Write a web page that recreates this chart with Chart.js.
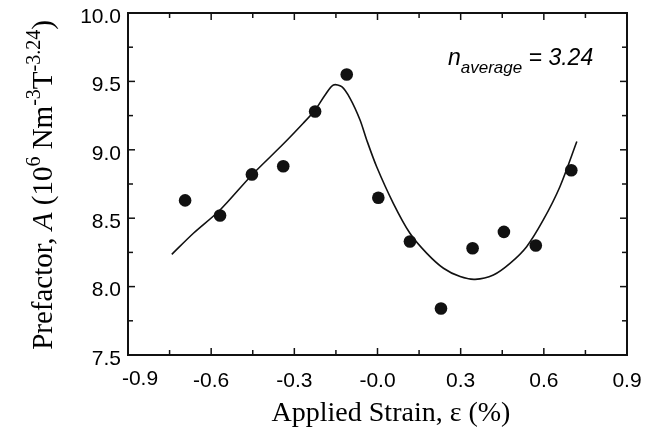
<!DOCTYPE html>
<html>
<head>
<meta charset="utf-8">
<script src="https://cdn.jsdelivr.net/npm/chart.js@4.4.1/dist/chart.umd.min.js"></script>
<style>
  html, body { margin: 0; padding: 0; background: #fff; }
</style>
</head>
<body>
<canvas id="strainChart" width="659" height="446"></canvas>
<script>
// Measured prefactor values
const strainX = [-0.694, -0.568, -0.453, -0.340, -0.225, -0.111, 0.003, 0.117, 0.229, 0.343, 0.456, 0.571, 0.699];
const prefactor = [8.63, 8.52, 8.82, 8.88, 9.28, 9.55, 8.65, 8.33, 7.84, 8.28, 8.40, 8.30, 8.85];

// Fitted curve
const fitX = [-0.742, -0.664, -0.568, -0.453, -0.340, -0.268, -0.225, -0.189, -0.159, -0.129, -0.099, -0.063, -0.039,
              -0.003, 0.057, 0.117, 0.178, 0.238, 0.298, 0.352, 0.418, 0.478, 0.538, 0.598, 0.658, 0.719];
const fitY = [8.236, 8.390, 8.560, 8.816, 9.042, 9.194, 9.291, 9.401, 9.474, 9.461, 9.376, 9.218, 9.072,
              8.876, 8.609, 8.390, 8.243, 8.134, 8.073, 8.053, 8.085, 8.170, 8.292, 8.487, 8.730, 9.060];

// Axis ticks
const xTicks = [-0.9, -0.6, -0.3, 0, 0.3, 0.6, 0.9];
const xTickLabels = ['-0.9', '-0.6', '-0.3', '-0.0', '0.3', '0.6', '0.9'];
const xMinorTicks = [-0.75, -0.45, -0.15, 0.15, 0.45, 0.75];
const yTicks = [7.5, 8.0, 8.5, 9.0, 9.5, 10.0];
const yTickLabels = ['7.5', '8.0', '8.5', '9.0', '9.5', '10.0'];
const yMinorTicks = [7.75, 8.25, 8.75, 9.25, 9.75];

const sans = "'Liberation Sans', Arial, sans-serif";
const serif = "'Liberation Serif', 'Times New Roman', serif";

// Draws a run of text pieces (main text, superscripts, subscripts) one after another
function drawRich(ctx, parts, startX, baseY) {
    let cx = startX;
    parts.forEach(p => {
        ctx.font = p.font;
        ctx.fillText(p.t, cx, baseY + (p.dy || 0));
        cx += ctx.measureText(p.t).width;
    });
}
function richWidth(ctx, parts) {
    let w = 0;
    parts.forEach(p => { ctx.font = p.font; w += ctx.measureText(p.t).width; });
    return w;
}

// Frame, inward ticks, axis titles and the annotation
const framePlugin = {
    id: 'frame',
    afterDraw(chart) {
        const { ctx, chartArea: a, scales: { x, y } } = chart;
        ctx.save();
        ctx.strokeStyle = '#111';
        ctx.fillStyle = '#000';

        ctx.lineWidth = 1.5;
        const line = (x1, y1, x2, y2) => { ctx.beginPath(); ctx.moveTo(x1, y1); ctx.lineTo(x2, y2); ctx.stroke(); };
        const tickX = (v, len) => {
            const px = x.getPixelForValue(v);
            line(px, a.bottom, px, a.bottom - len);
            line(px, a.top, px, a.top + len);
        };
        const tickY = (v, len) => {
            const py = y.getPixelForValue(v);
            line(a.left, py, a.left + len, py);
            line(a.right, py, a.right - len, py);
        };
        xTicks.forEach(v => tickX(v, 7));
        xMinorTicks.forEach(v => tickX(v, 5));
        yTicks.forEach(v => tickY(v, 7));
        yMinorTicks.forEach(v => tickY(v, 5));

        ctx.lineWidth = 2;
        ctx.strokeRect(a.left, a.top, a.right - a.left, a.bottom - a.top);

        // first x label sits a bit to the right of its tick in the original
        ctx.font = '21px ' + sans;
        ctx.textAlign = 'center';
        ctx.textBaseline = 'top';
        ctx.fillText(xTickLabels[0], x.getPixelForValue(xTicks[0]) + 12, a.bottom + 14);

        // x title
        ctx.textAlign = 'left';
        ctx.textBaseline = 'alphabetic';
        const xTitle = [{ t: 'Applied Strain, \u03B5 (%)', font: '28px ' + serif }];
        drawRich(ctx, xTitle, 391 - richWidth(ctx, xTitle) / 2, 421);

        // y title, rotated
        const big = '29px ' + serif;
        const sup = '20px ' + serif;
        const yTitle = [
            { t: 'Prefactor, ', font: big },
            { t: 'A', font: 'italic ' + big },
            { t: ' (10', font: big },
            { t: '6', font: sup, dy: -12 },
            { t: ' Nm', font: big },
            { t: '-3', font: sup, dy: -12 },
            { t: 'T', font: big },
            { t: '-3.24', font: sup, dy: -12 },
            { t: ')', font: big }
        ];
        ctx.save();
        ctx.translate(52, (a.top + a.bottom) / 2 + 1);
        ctx.rotate(-Math.PI / 2);
        drawRich(ctx, yTitle, -richWidth(ctx, yTitle) / 2, 0);
        ctx.restore();

        // annotation
        drawRich(ctx, [
            { t: 'n', font: 'italic 23px ' + sans },
            { t: 'average', font: 'italic 17px ' + sans, dy: 8 },
            { t: ' = 3.24', font: 'italic 23px ' + sans }
        ], 448, 65);

        ctx.restore();
    }
};

const ctx = document.getElementById('strainChart').getContext('2d');

new Chart(ctx, {
    type: 'scatter',
    data: {
        datasets: [
            {
                label: 'fit',
                data: fitX.map((v, i) => ({ x: v, y: fitY[i] })),
                showLine: true,
                borderColor: '#111',
                borderWidth: 1.6,
                pointRadius: 0,
                tension: 0.3,
                fill: false
            },
            {
                label: 'data',
                data: strainX.map((v, i) => ({ x: v, y: prefactor[i] })),
                showLine: false,
                pointRadius: 6.3,
                pointBackgroundColor: '#111',
                pointBorderWidth: 0
            }
        ]
    },
    options: {
        responsive: false,
        animation: false,
        layout: { padding: { top: 13, right: 32, left: 0, bottom: 0 } },
        plugins: {
            legend: { display: false },
            tooltip: { enabled: false }
        },
        scales: {
            x: {
                type: 'linear',
                min: -0.9,
                max: 0.9,
                afterBuildTicks: s => { s.ticks = xTicks.map(v => ({ value: v })); },
                afterFit: s => { s.height = 91; s.paddingLeft = 0; s.paddingRight = 0; },
                grid: { display: false, drawTicks: false },
                border: { display: false },
                ticks: {
                    autoSkip: false,
                    maxRotation: 0,
                    padding: 14,
                    color: '#000',
                    font: { family: sans, size: 21 },
                    callback: (v, i) => (i === 0 ? '' : xTickLabels[i])
                }
            },
            y: {
                min: 7.5,
                max: 10,
                afterBuildTicks: s => { s.ticks = yTicks.map(v => ({ value: v })); },
                afterFit: s => { s.width = 128; s.paddingTop = 0; s.paddingBottom = 0; },
                grid: { display: false, drawTicks: false },
                border: { display: false },
                ticks: {
                    autoSkip: false,
                    padding: 7,
                    labelOffset: 4,
                    color: '#000',
                    font: { family: sans, size: 21 },
                    callback: (v, i) => yTickLabels[i]
                }
            }
        }
    },
    plugins: [framePlugin]
});
</script>
</body>
</html>
